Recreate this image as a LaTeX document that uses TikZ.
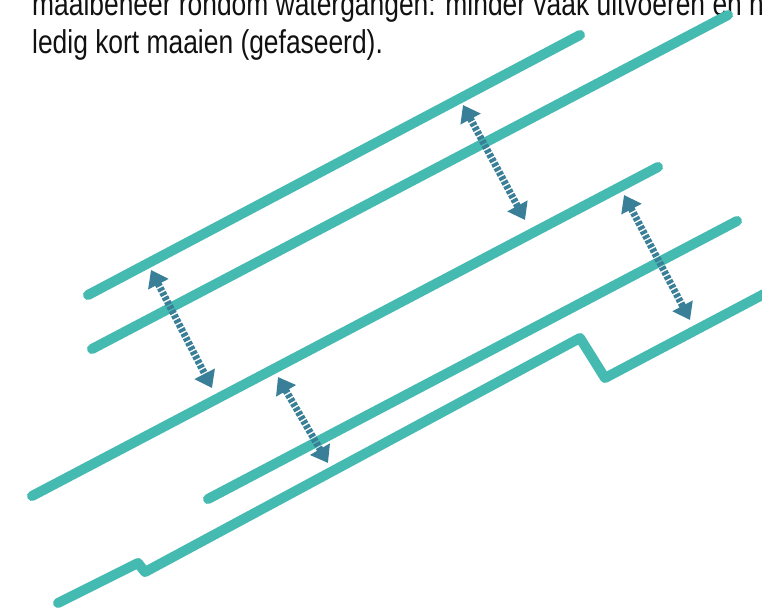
\documentclass[tikz,border=0pt]{standalone}
\usepackage{fontspec}
\newfontfamily\capfont[FakeStretch=0.8]{Liberation Sans}
\usetikzlibrary{arrows.meta}
\definecolor{waterteal}{HTML}{44BAB1}
\definecolor{arrowblue}{HTML}{3A7F98}
\definecolor{txt}{HTML}{111111}
\begin{document}
\begin{tikzpicture}[x=1pt,y=-1pt,
  water/.style={line width=10pt, line cap=round, line join=round, draw=waterteal},
  gaparrow/.style={draw=arrowblue, line width=7pt, dash pattern=on 3.5pt off 1.6pt,
    {Triangle[width=22pt,length=16pt]}-{Triangle[width=22pt,length=16pt]}},
  caption/.style={anchor=base west, inner sep=0pt, text=txt, font=\capfont\fontsize{33}{38}\selectfont}]
\useasboundingbox (0,0) rectangle (762,612);
\clip (0,0) rectangle (762,612);
% text
\node[caption] (t1) at (32,16) {maaibeheer rondom watergangen: minder vaak uitvoeren en niet};
\node[caption] (t2) at (32,54) {ledig kort maaien (gefaseerd).};
% water lines
\coordinate (a1) at (88,295);  \coordinate (a2) at (580,35);
\coordinate (b1) at (92,349);  \coordinate (b2) at (728,15);
\coordinate (c1) at (32,496);  \coordinate (c2) at (658,167);
\coordinate (d1) at (208,499); \coordinate (d2) at (737,221);
\coordinate (e1) at (58,603);  \coordinate (e2) at (138,563);
\coordinate (e3) at (145,572); \coordinate (e4) at (580,338);
\coordinate (e5) at (605,378); \coordinate (e6) at (800,275);
\draw[water] (a1) -- (a2);
\draw[water] (b1) -- (b2);
\draw[water] (c1) -- (c2);
\draw[water] (d1) -- (d2);
\draw[water] (e1) -- (e2) -- (e3) -- (e4) -- (e5) -- (e6);
% distance arrows
\coordinate (p1) at (151,270); \coordinate (q1) at (212,388);
\coordinate (p2) at (463,105); \coordinate (q2) at (525,220);
\coordinate (p3) at (624,195); \coordinate (q3) at (690,320);
\coordinate (p4) at (278,377); \coordinate (q4) at (328,463);
\draw[gaparrow] (p1) -- (q1);
\draw[gaparrow] (p2) -- (q2);
\draw[gaparrow] (p3) -- (q3);
\draw[gaparrow] (p4) -- (q4);
\end{tikzpicture}
\end{document}
